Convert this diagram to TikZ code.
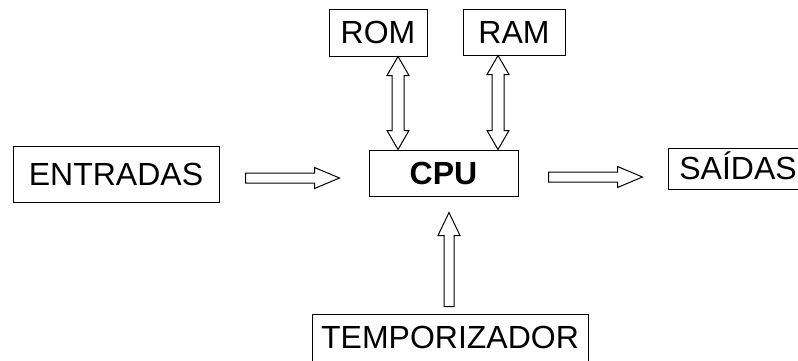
\documentclass[tikz,border=0pt]{standalone}
\usepackage{fontspec}
\setmainfont{Liberation Sans}
\usetikzlibrary{calc}
\tikzset{
  box/.style={draw=black, line width=1pt, inner sep=0pt, text height=22.5pt, text depth=0pt,
    font=\fontsize{32}{36}\selectfont},
  blockarrow/.style={draw=black, fill=white, line width=1pt, line join=miter},
}
% horizontal block arrow pointing right: #1 tail, #2 tip
\newcommand\hblockarrow[2]{%
  \path[blockarrow] let \p1=(#1), \p2=(#2) in
    (\x1,\y1+5pt) -- (\x2-25pt,\y1+5pt) -- (\x2-25pt,\y1+10.5pt) -- (\x2,\y1)
    -- (\x2-25pt,\y1-10.5pt) -- (\x2-25pt,\y1-5pt) -- (\x1,\y1-5pt) -- cycle;}
% vertical block arrow pointing up: #1 tail (bottom), #2 tip (top)
\newcommand\vblockarrow[2]{%
  \path[blockarrow] let \p1=(#1), \p2=(#2) in
    (\x1-5pt,\y1) -- (\x1-5pt,\y2-23pt) -- (\x1-11pt,\y2-23pt) -- (\x1,\y2)
    -- (\x1+11pt,\y2-23pt) -- (\x1+5pt,\y2-23pt) -- (\x1+5pt,\y1) -- cycle;}
% vertical double block arrow: #1 top end, #2 bottom end
\newcommand\dblockarrow[2]{%
  \path[blockarrow] let \p1=(#1), \p2=(#2) in
    (\x1,\y1) -- (\x1+11pt,\y1-19pt) -- (\x1+6pt,\y1-19pt) -- (\x1+6pt,\y2+19pt)
    -- (\x1+11pt,\y2+19pt) -- (\x1,\y2) -- (\x1-11pt,\y2+19pt) -- (\x1-6pt,\y2+19pt)
    -- (\x1-6pt,\y1-19pt) -- (\x1-11pt,\y1-19pt) -- cycle;}
\begin{document}
\begin{tikzpicture}[x=1pt,y=-1pt]
  \useasboundingbox (0,0) rectangle (798,360);
  \clip (0,0) rectangle (798,360);
  \fill[white] (0,0) rectangle (798,360);

  \node[box, minimum width=206pt, minimum height=56pt] (in) at (116,174) {ENTRADAS};
  \node[box, minimum width=149pt, minimum height=46pt, font=\fontsize{32}{36}\selectfont\bfseries] (cpu) at (443.5,173) {CPU};
  \node[box, minimum width=140pt, minimum height=41pt] (out) at (738,168.5) {SAÍDAS};
  \node[box, minimum width=98pt, minimum height=47pt] (rom) at (378,32.5) {ROM};
  \node[box, minimum width=102pt, minimum height=46pt] (ram) at (514,32) {RAM};
  \node[box, minimum width=276pt, minimum height=47pt] (tmp) at (450,337.5) {TEMPORIZADOR};

  \coordinate (a1) at ($(in.east)+(26,4)$);
  \coordinate (a2) at ($(cpu.west)+(-29,5)$);
  \coordinate (b1) at ($(cpu.east)+(30,4)$);
  \coordinate (b2) at ($(out.west)+(-25,8.5)$);
  \coordinate (r1) at ($(rom.south)+(20,0)$);
  \coordinate (r2) at ($(cpu.north)+(-45.5,0)$);
  \coordinate (m1) at ($(ram.south)+(-16,0)$);
  \coordinate (m2) at ($(cpu.north)+(54.5,0)$);
  \coordinate (t1) at ($(tmp.north)+(-1,-7)$);
  \coordinate (t2) at ($(cpu.south)+(5.5,16)$);

  \hblockarrow{a1}{a2}
  \hblockarrow{b1}{b2}
  \dblockarrow{r1}{r2}
  \dblockarrow{m1}{m2}
  \vblockarrow{t1}{t2}
\end{tikzpicture}
\end{document}
